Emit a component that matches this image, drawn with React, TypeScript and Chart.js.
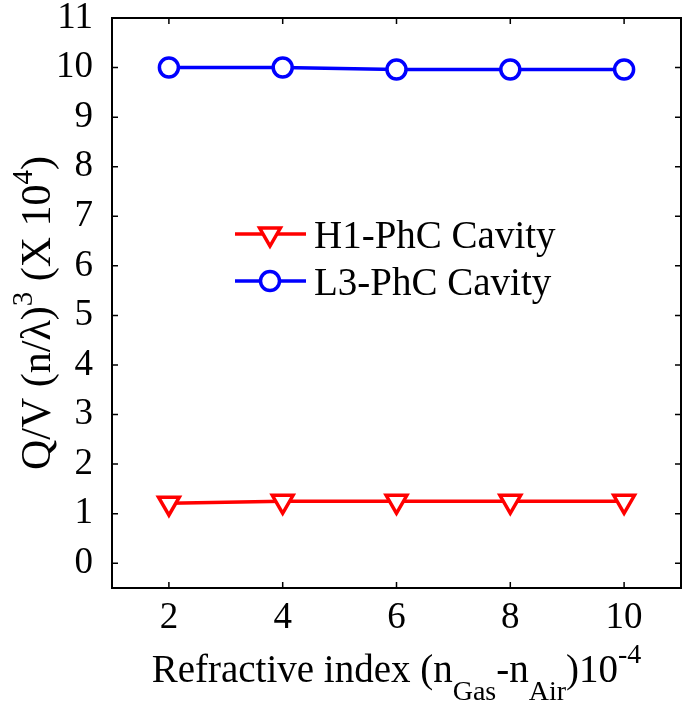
import React, { useEffect, useRef } from "react";
import { Chart, registerables } from "chart.js";

Chart.register(...registerables);

const X_VALUES = [2, 4, 6, 8, 10];
const H1_VALUES = [1.21, 1.25, 1.25, 1.25, 1.25];
const L3_VALUES = [10.0, 10.0, 9.96, 9.96, 9.96];
const X_TICKS = [2, 4, 6, 8, 10];
const Y_TICKS = [0, 1, 2, 3, 4, 5, 6, 7, 8, 9, 10, 11];
const SERIES_NAMES = ["H1-PhC Cavity", "L3-PhC Cavity"];
const SERIES_COLORS = ["#ff0000", "#0000ff"];

const FONT = "'Liberation Serif', 'Times New Roman', serif";

type Seg = { t: string; size: number; dy: number };

function drawRich(ctx: CanvasRenderingContext2D, segs: Seg[], x: number, y: number, align: "left" | "center") {
  let total = 0;
  const widths = segs.map((s) => {
    ctx.font = `${s.size}px ${FONT}`;
    const w = ctx.measureText(s.t).width;
    total += w;
    return w;
  });
  let cx = align === "center" ? x - total / 2 : x;
  segs.forEach((s, i) => {
    ctx.font = `${s.size}px ${FONT}`;
    ctx.fillText(s.t, cx, y + s.dy);
    cx += widths[i];
  });
}

const decorPlugin = {
  id: "decor",
  afterDraw(chart: any) {
    const ctx: CanvasRenderingContext2D = chart.ctx;
    const { left, right, top, bottom } = chart.chartArea;
    const xs = chart.scales.x;
    const ys = chart.scales.y;
    ctx.save();
    ctx.strokeStyle = "#000";
    ctx.lineWidth = 2;
    ctx.strokeRect(left, top, right - left, bottom - top);
    const tl = 6;
    ctx.lineWidth = 1.5;
    ctx.beginPath();
    X_TICKS.forEach((v) => {
      const px = xs.getPixelForValue(v);
      ctx.moveTo(px, bottom);
      ctx.lineTo(px, bottom - tl);
      ctx.moveTo(px, top);
      ctx.lineTo(px, top + tl);
    });
    Y_TICKS.forEach((v) => {
      const py = ys.getPixelForValue(v);
      ctx.moveTo(left, py);
      ctx.lineTo(left + tl, py);
      ctx.moveTo(right, py);
      ctx.lineTo(right - tl, py);
    });
    ctx.stroke();

    const rows = [
      { y: 234, color: SERIES_COLORS[0], name: SERIES_NAMES[0], marker: "tri" },
      { y: 281, color: SERIES_COLORS[1], name: SERIES_NAMES[1], marker: "circ" },
    ];
    rows.forEach((r) => {
      ctx.strokeStyle = r.color;
      ctx.lineWidth = 3.5;
      ctx.beginPath();
      ctx.moveTo(235, r.y);
      ctx.lineTo(306, r.y);
      ctx.stroke();
      const cx = 270;
      ctx.fillStyle = "#fff";
      ctx.beginPath();
      if (r.marker === "tri") {
        const rad = 12;
        let a = Math.PI;
        ctx.moveTo(cx + Math.sin(a) * rad, r.y - Math.cos(a) * rad);
        a += (2 * Math.PI) / 3;
        ctx.lineTo(cx + Math.sin(a) * rad, r.y - Math.cos(a) * rad);
        a += (2 * Math.PI) / 3;
        ctx.lineTo(cx + Math.sin(a) * rad, r.y - Math.cos(a) * rad);
        ctx.closePath();
      } else {
        ctx.arc(cx, r.y, 9.5, 0, Math.PI * 2);
      }
      ctx.fill();
      ctx.stroke();
      ctx.fillStyle = "#000";
      ctx.font = `39px ${FONT}`;
      ctx.textAlign = "left";
      ctx.textBaseline = "alphabetic";
      ctx.fillText(r.name, 314, r.y + 14);
    });

    ctx.fillStyle = "#000";
    ctx.textAlign = "left";
    ctx.textBaseline = "alphabetic";
    const big = 39;
    const small = 28;
    drawRich(
      ctx,
      [
        { t: "Refractive index (n", size: big, dy: 0 },
        { t: "Gas", size: small, dy: 18 },
        { t: "-n", size: big, dy: 0 },
        { t: "Air", size: small, dy: 18 },
        { t: ")10", size: big, dy: 0 },
        { t: "-4", size: small, dy: -19 },
      ],
      (left + right) / 2,
      682,
      "center"
    );

    ctx.save();
    ctx.translate(50, (top + bottom) / 2 + 10);
    ctx.rotate(-Math.PI / 2);
    const yb = 42;
    const ys2 = 29;
    drawRich(
      ctx,
      [
        { t: "Q/V (n/λ)", size: yb, dy: 0 },
        { t: "3", size: ys2, dy: -18 },
        { t: " (X 10", size: yb, dy: 0 },
        { t: "4", size: ys2, dy: -18 },
        { t: ")", size: yb, dy: 0 },
      ],
      0,
      0,
      "center"
    );
    ctx.restore();
    ctx.restore();
  },
};

export default function App() {
  const ref = useRef<HTMLCanvasElement | null>(null);
  useEffect(() => {
    if (!ref.current) return;
    const chart = new Chart(ref.current, {
      type: "line",
      data: {
        datasets: [
          {
            label: SERIES_NAMES[0],
            data: X_VALUES.map((x, i) => ({ x, y: H1_VALUES[i] })),
            borderColor: SERIES_COLORS[0],
            backgroundColor: "#ffffff",
            borderWidth: 3.5,
            pointStyle: "triangle",
            rotation: 180,
            pointRadius: 12,
            pointBorderWidth: 3.5,
            pointBackgroundColor: "#ffffff",
            pointBorderColor: SERIES_COLORS[0],
            tension: 0,
          },
          {
            label: SERIES_NAMES[1],
            data: X_VALUES.map((x, i) => ({ x, y: L3_VALUES[i] })),
            borderColor: SERIES_COLORS[1],
            backgroundColor: "#ffffff",
            borderWidth: 3.5,
            pointStyle: "circle",
            pointRadius: 9.5,
            pointBorderWidth: 3.5,
            pointBackgroundColor: "#ffffff",
            pointBorderColor: SERIES_COLORS[1],
            tension: 0,
          },
        ],
      },
      options: {
        responsive: false,
        animation: false,
        layout: { autoPadding: false, padding: { top: 18, right: 4, left: 0, bottom: 0 } },
        plugins: { legend: { display: false }, tooltip: { enabled: false }, title: { display: false } },
        scales: {
          x: {
            type: "linear",
            min: 1,
            max: 11,
            grid: { display: false },
            border: { display: false },
            afterBuildTicks: (scale: any) => {
              scale.ticks = X_TICKS.map((v) => ({ value: v }));
            },
            afterFit: (scale: any) => {
              scale.height = 122;
              scale.paddingLeft = 0;
              scale.paddingRight = 0;
            },
            ticks: {
              color: "#000",
              font: { family: FONT, size: 37 },
              padding: 0,
              maxRotation: 0,
              autoSkip: false,
            },
          },
          y: {
            type: "linear",
            min: -0.5,
            max: 11,
            grid: { display: false },
            border: { display: false },
            afterBuildTicks: (scale: any) => {
              scale.ticks = Y_TICKS.map((v) => ({ value: v }));
            },
            afterFit: (scale: any) => {
              scale.width = 112;
              scale.paddingTop = 0;
              scale.paddingBottom = 0;
            },
            ticks: {
              color: "#000",
              font: { family: FONT, size: 37 },
              padding: 11,
              autoSkip: false,
            },
          },
        },
      },
      plugins: [decorPlugin],
    } as any);
    return () => chart.destroy();
  }, []);
  return (
    <div style={{ position: "absolute", left: 0, top: 0, width: 685, height: 710, background: "#fff" }}>
      <canvas ref={ref} width={685} height={710} style={{ display: "block" }} />
    </div>
  );
}
